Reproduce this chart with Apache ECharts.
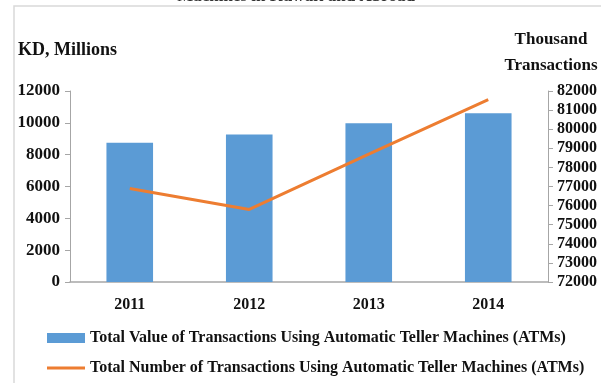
<!DOCTYPE html>
<html>
<head>
<meta charset="utf-8">
<script src="https://cdn.jsdelivr.net/npm/echarts@6/dist/echarts.min.js"></script>
<style>
  html, body { margin: 0; padding: 0; background: #fff; }
  #chart { width: 601px; height: 383px; }
</style>
</head>
<body>
<div id="chart"></div>
<script>
// Years on the category axis
const years = ['2011', '2012', '2013', '2014'];
// Total value of ATM transactions, KD millions (left axis)
const valueKD = [8750, 9270, 9970, 10600];
// Total number of ATM transactions, thousand transactions (right axis)
const countThousand = [76900, 75800, 78700, 81550];

const valueName = 'Total Value of Transactions Using Automatic Teller Machines (ATMs)';
const countName = 'Total Number of Transactions Using Automatic Teller Machines (ATMs)';

const serif = '"Liberation Serif", "Times New Roman", serif';
const axisGray = '#a6a6a6';
const plain = v => String(v);

const chart = echarts.init(document.getElementById('chart'));
chart.setOption({
  animation: false,
  backgroundColor: '#fff',
  textStyle: { fontFamily: serif, color: '#111', fontWeight: 'bold' },
  grid: { left: 70, right: 53, top: 91, bottom: 101 },
  graphic: [
    {
      type: 'rect', silent: true, z: -1,
      shape: { x: 14, y: 6, width: 620, height: 420 },
      style: { fill: '#fff', stroke: '#d9d9d9', lineWidth: 1.5 }
    },
    {
      type: 'text', silent: true,
      style: {
        text: 'Machines in Kuwait and Abroad',
        x: 296, y: 5, align: 'center', verticalAlign: 'bottom',
        font: 'bold 17px ' + serif, fill: '#333'
      }
    },
    {
      type: 'text', silent: true,
      style: {
        text: 'KD, Millions', x: 18, y: 50, verticalAlign: 'middle',
        font: 'bold 18px ' + serif, fill: '#111'
      }
    },
    {
      type: 'text', silent: true,
      style: {
        text: 'Thousand\nTransactions', x: 551, y: 53, align: 'center', verticalAlign: 'middle',
        lineHeight: 26,
        font: 'bold 17px ' + serif, fill: '#111'
      }
    }
  ],
  legend: {
    orient: 'vertical',
    left: 42, top: 325,
    itemWidth: 38, itemHeight: 10, itemGap: 14,
    textStyle: { fontFamily: serif, fontWeight: 'bold', fontSize: 16, color: '#111' },
    data: [
      { name: valueName, icon: 'rect' },
      { name: countName, icon: 'path://M0,0 L38,0 L38,3 L0,3 Z' }
    ]
  },
  xAxis: {
    type: 'category',
    data: years,
    axisLine: { lineStyle: { color: axisGray, width: 1.5 } },
    axisTick: { show: false },
    axisLabel: { fontFamily: serif, fontWeight: 'bold', fontSize: 16, color: '#111', margin: 15 }
  },
  yAxis: [
    {
      type: 'value', min: 0, max: 12000, interval: 2000,
      splitLine: { show: false },
      axisLine: { show: true, lineStyle: { color: axisGray } },
      axisTick: { show: true, inside: false, length: 5, lineStyle: { color: axisGray } },
      axisLabel: { fontFamily: serif, fontWeight: 'bold', fontSize: 17, color: '#111', margin: 10, formatter: plain }
    },
    {
      type: 'value', min: 72000, max: 82000, interval: 1000,
      position: 'right',
      splitLine: { show: false },
      axisLine: { show: true, lineStyle: { color: axisGray } },
      axisTick: { show: true, inside: false, length: 5, lineStyle: { color: axisGray } },
      axisLabel: { fontFamily: serif, fontWeight: 'bold', fontSize: 16, color: '#111', margin: 9, formatter: plain }
    }
  ],
  series: [
    {
      name: valueName,
      type: 'bar',
      data: valueKD,
      yAxisIndex: 0,
      barWidth: '39%',
      itemStyle: { color: '#5b9bd5' }
    },
    {
      name: countName,
      type: 'line',
      data: countThousand,
      yAxisIndex: 1,
      symbol: 'none',
      lineStyle: { color: '#ed7d31', width: 3 },
      itemStyle: { color: '#ed7d31' }
    }
  ]
});
</script>
</body>
</html>
